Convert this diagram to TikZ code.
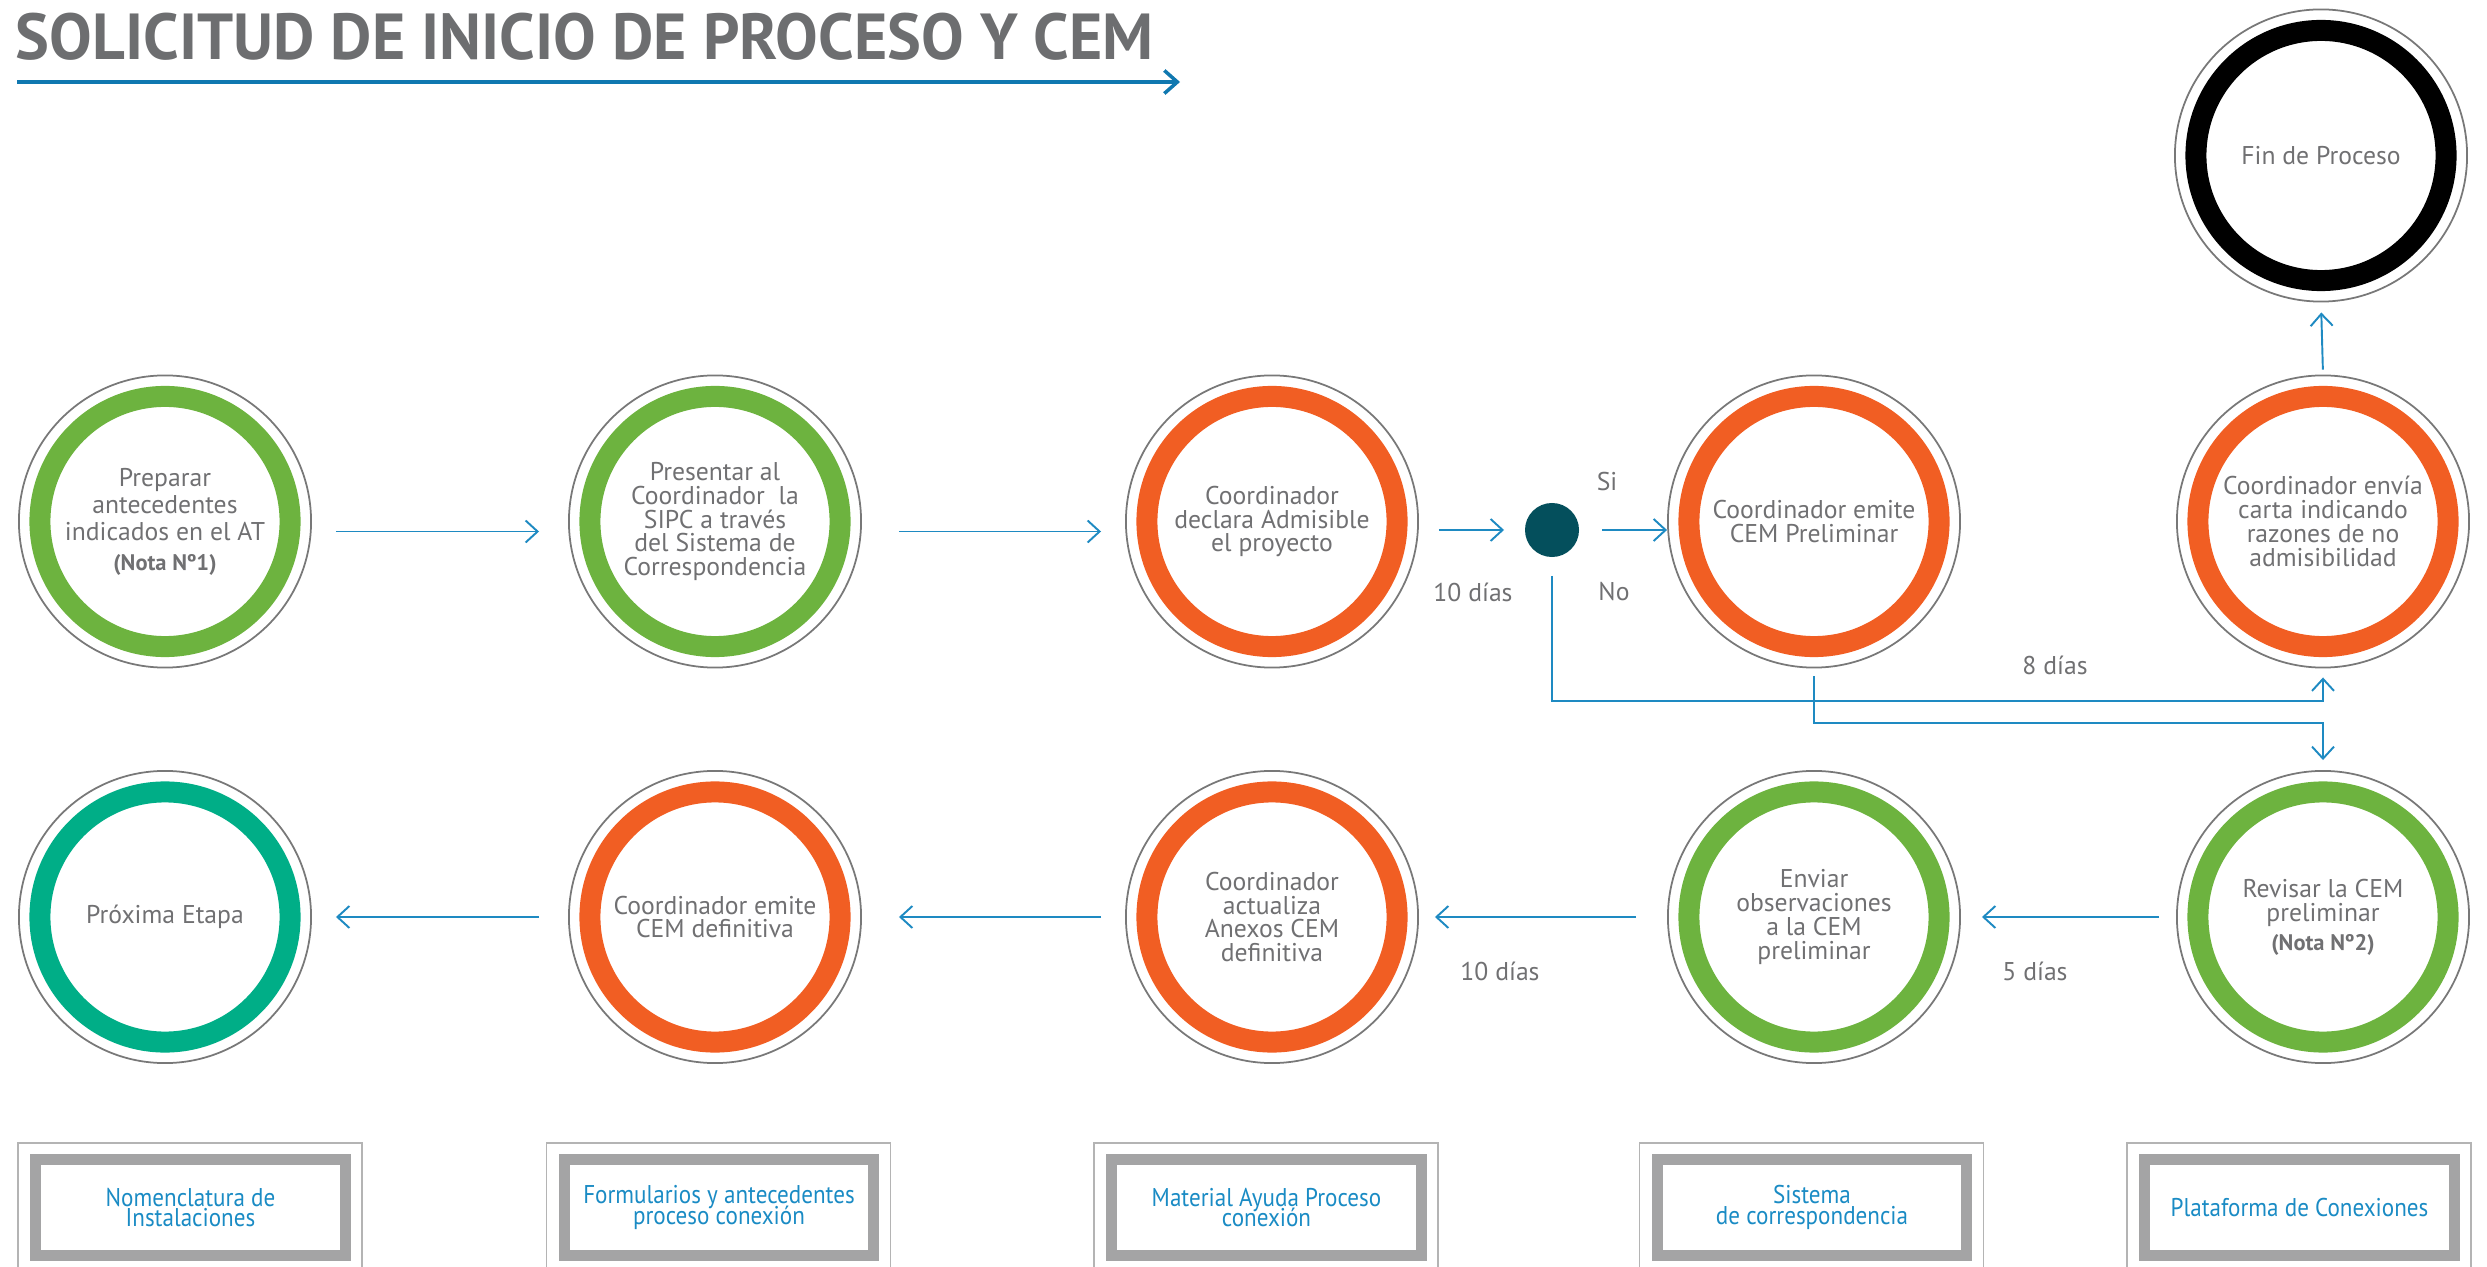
\documentclass[tikz,border=0pt]{standalone}
\usepackage{fontspec}
\setmainfont{PT Sans}
\newfontfamily\condfont{PT Sans}[FakeStretch=0.9]
\newfontfamily\titlefont{PT Sans}[FakeStretch=0.98]
\usetikzlibrary{arrows.meta}

\definecolor{ringgreen}{RGB}{109,179,63}
\definecolor{ringorange}{RGB}{241,94,35}
\definecolor{ringteal}{RGB}{0,174,135}
\definecolor{dotteal}{RGB}{4,79,92}
\definecolor{flowblue}{RGB}{30,138,194}
\definecolor{titleblue}{RGB}{16,120,176}
\definecolor{titlegray}{RGB}{109,110,112}
\definecolor{txtgray}{RGB}{112,112,114}
\definecolor{edgegray}{RGB}{120,120,120}
\definecolor{framegray}{RGB}{164,164,165}
\definecolor{linegray}{RGB}{180,180,180}
\definecolor{linkblue}{RGB}{26,139,196}

\newcommand\linkfont{\condfont\fontsize{7.3}{5.8}\selectfont\lineskiplimit=-5pt\relax}

\begin{document}
\begin{tikzpicture}[x=0.01cm, y=-0.01cm, line width=0.55pt,
    stage/.style={circle, draw=edgegray, line width=0.5pt, minimum size=2.92cm,
      inner sep=0pt, align=center, text=txtgray,
      font=\fontsize{7.3}{6.8}\selectfont,
      path picture={\draw[line width=2.1mm, draw=#1]
        (path picture bounding box.center) circle (12.5mm);}},
    flow/.style={draw=flowblue, line width=0.55pt,
      -{Straight Barb[length=1.2mm, width=2.2mm]}},
    lbl/.style={text=txtgray, font=\fontsize{7.3}{8}\selectfont},
    linkbox/.style={draw=framegray, line width=0.11cm, outer sep=0pt,
      minimum width=3.09cm, minimum height=0.96cm, inner sep=0pt,
      align=center, text=linkblue, font=\linkfont},
    boxedge/.style={draw=linegray, line width=0.5pt}]

    \useasboundingbox (0,0) rectangle (2487,1267);

    % draw title and its line
    \node[anchor=base west, inner sep=0pt, text=titlegray,
      font=\titlefont\bfseries\fontsize{18.5}{20}\selectfont]
      (title) at (15,60) {SOLICITUD DE INICIO DE PROCESO Y CEM};
    \coordinate (tl0) at (17,82);
    \coordinate (tl1) at (1180,82);
    \draw[draw=titleblue, line width=1pt,
      -{Straight Barb[length=1.3mm, width=2.3mm]}] (tl0) -- (tl1);

    % draw first row of stages
    \node[stage=ringgreen] (c1) at (165,521.5)
      {Preparar\\[1pt]antecedentes\\[1pt]indicados en el AT\\[1.5pt]{\bfseries\fontsize{6.4}{7}\selectfont(Nota Nº1)}};
    \node[stage=ringgreen] (c2) at (715,521.5)
      {Presentar al\\Coordinador~ la\\SIPC a través\\del Sistema de\\Correspondencia};
    \node[stage=ringorange] (c3) at (1272,521.5)
      {Coordinador\\declara Admisible\\el proyecto};
    \node[stage=ringorange] (c4) at (1814,521.5)
      {Coordinador emite\\CEM Preliminar};
    \node[stage=ringorange] (c5) at (2323,521.5)
      {Coordinador envía\\carta indicando\\razones de no\\admisibilidad};
    \node[stage=black] (fin) at (2321,155.5) {Fin de Proceso};

    % draw decision dot
    \node[circle, fill=dotteal, minimum size=0.54cm, inner sep=0pt] (dec) at (1552,530) {};

    % draw second row of stages
    \node[stage=ringteal] (r1) at (165,917) {Próxima Etapa};
    \node[stage=ringorange] (r2) at (715,917)
      {Coordinador emite\\CEM definitiva};
    \node[stage=ringorange] (r3) at (1272,917)
      {Coordinador\\actualiza\\Anexos CEM\\definitiva};
    \node[stage=ringgreen] (r4) at (1814,917)
      {Enviar\\observaciones\\a la CEM\\preliminar};
    \node[stage=ringgreen] (r5) at (2323,917)
      {Revisar la CEM\\preliminar\\[1.5pt]{\bfseries\fontsize{6.4}{7}\selectfont(Nota Nº2)}};

    % draw arrows of first row
    \draw[flow, shorten <=0.24cm, shorten >=0.29cm] ([yshift=-0.1cm]c1.east) -- ([yshift=-0.1cm]c2.west);
    \draw[flow, shorten <=0.37cm, shorten >=0.24cm] ([yshift=-0.1cm]c2.east) -- ([yshift=-0.1cm]c3.west);
    \draw[flow, shorten <=0.2cm, shorten >=0.2cm] (c3.east |- dec) -- (dec.west);
    \draw[flow, shorten <=0.22cm] (dec.east) -- (c4.west |- dec);

    % draw branches down and up
    \draw[flow, shorten <=0.18cm, shorten >=0.09cm] (dec.south) -- ++(0,143) -| (c5.south);
    \draw[flow, shorten <=0.08cm, shorten >=0.1cm] (c4.south) -- ++(0,54.5) -| (r5.north);
    \draw[flow, shorten <=0.05cm, shorten >=0.1cm] (c5.north) -- (fin.south);

    % draw arrows of second row
    \draw[flow, shorten <=0.17cm, shorten >=0.21cm] (r5.west) -- (r4.east);
    \draw[flow, shorten <=0.31cm, shorten >=0.16cm] (r4.west) -- (r3.east);
    \draw[flow, shorten <=0.24cm, shorten >=0.37cm] (r3.west) -- (r2.east);
    \draw[flow, shorten <=0.29cm, shorten >=0.24cm] (r2.west) -- (r1.east);

    % labels
    \node[lbl] (si) at (1607,482) {Si};
    \node[lbl] (no) at (1614,592) {No};
    \node[lbl] (d10a) at (1473,592) {10 días};
    \node[lbl] (d8) at (2055,665) {8 días};
    \node[lbl] (d10b) at (1500,971) {10 días};
    \node[lbl] (d5) at (2035,971) {5 días};

    % draw link boxes
    \node[linkbox] (b1) at (190.5,1207.5) {Nomenclatura de\\Instalaciones};
    \node[linkbox] (b2) at (719,1207.5) {Formularios y antecedentes\\proceso conexión};
    \node[linkbox] (b3) at (1266.5,1207.5) {Material Ayuda Proceso\\conexión};
    \node[linkbox] (b4) at (1812,1207.5) {Sistema\\de correspondencia};
    \node[linkbox] (b5) at (2299.5,1207.5) {Plataforma de Conexiones};
    \foreach \bx in {b1,b2,b3,b4,b5}
      \draw[boxedge] (\bx.south west) ++(-18,12) -- ++(0,-124.5) -- ++(344,0) -- ++(0,124.5);

\end{tikzpicture}
\end{document}
